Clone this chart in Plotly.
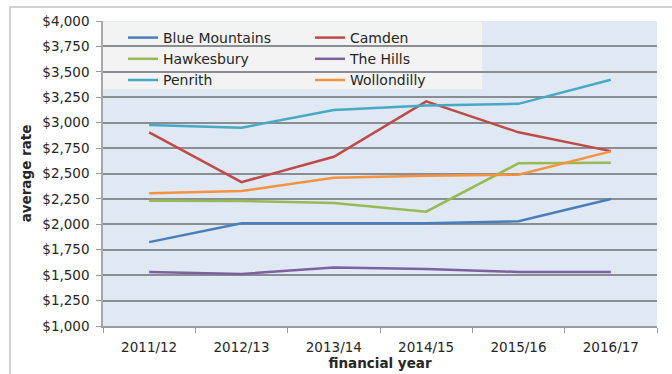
import plotly.graph_objects as go

years = ["2011/12", "2012/13", "2013/14", "2014/15", "2015/16", "2016/17"]
blue_mountains = [1825, 2010, 2010, 2010, 2030, 2250]
camden = [2905, 2415, 2665, 3210, 2905, 2720]
hawkesbury = [2232, 2230, 2210, 2125, 2600, 2605]
the_hills = [1532, 1512, 1575, 1560, 1532, 1532]
penrith = [2978, 2950, 3125, 3170, 3185, 3422]
wollondilly = [2305, 2328, 2458, 2478, 2488, 2718]

series = [
    ("Blue Mountains", blue_mountains, "#4A7EBB"),
    ("Camden", camden, "#BE4B48"),
    ("Hawkesbury", hawkesbury, "#98B954"),
    ("The Hills", the_hills, "#7D60A0"),
    ("Penrith", penrith, "#46AAC5"),
    ("Wollondilly", wollondilly, "#F69240"),
]

FONT = "DejaVu Sans"
TXT = "#262626"

fig = go.Figure()
for name, vals, color in series:
    fig.add_trace(go.Scatter(x=years, y=vals, name=name, mode="lines",
                             line=dict(color=color, width=2.5)))

W, H = 672, 374
L, R, T, B = 103, 15, 21, 48
pw, ph = W - L - R, H - T - B

def px_x(x):
    return (x - L) / pw

def px_y(y):
    return 1 - (y - T) / ph

shapes = [
    # legend box, between gridlines and traces
    dict(type="rect", xref="paper", yref="paper", layer="between",
         x0=px_x(103), x1=px_x(482), y0=px_y(89), y1=px_y(22),
         fillcolor="#f3f3f3", line=dict(width=0)),
    # outer chart frame
    dict(type="rect", xref="paper", yref="paper", layer="above",
         x0=px_x(10), x1=px_x(690), y0=px_y(390), y1=px_y(7),
         fillcolor="rgba(0,0,0,0)", line=dict(color="#c4c4c4", width=1.5)),
]

fig.update_layout(
    width=W, height=H,
    margin=dict(l=L, r=R, t=T, b=B, pad=0),
    paper_bgcolor="white",
    plot_bgcolor="#dfe8f3",
    font=dict(family=FONT, size=13, color=TXT),
    shapes=shapes,
    showlegend=True,
    legend=dict(
        orientation="h", x=px_x(123), y=px_y(22), xanchor="left", yanchor="top",
        bgcolor="rgba(0,0,0,0)", borderwidth=0,
        entrywidth=142, entrywidthmode="pixels",
        font=dict(family=FONT, size=14, color=TXT),
        traceorder="normal",
    ),
    xaxis=dict(
        type="category", range=[-0.5, 5.5],
        tickson="boundaries", ticks="outside", ticklen=5, tickcolor="#9a9a9a",
        showline=True, linecolor="#9a9a9a", linewidth=1.5,
        showgrid=False, ticklabelstandoff=8,
        tickfont=dict(family=FONT, size=13.5, color=TXT),
        title=dict(text="<b>financial year</b>", standoff=4,
                   font=dict(family=FONT, size=13.5, color=TXT)),
        automargin=False,
    ),
    yaxis=dict(
        range=[1000, 4000], dtick=250, tick0=1000,
        tickprefix="$", tickformat=",",
        ticks="outside", ticklen=5, tickcolor="#9a9a9a",
        showline=True, linecolor="#a8a8a8", linewidth=1.5,
        showgrid=True, gridcolor="#8a8d92", gridwidth=1.5,
        zeroline=False, ticklabelstandoff=4,
        tickfont=dict(family=FONT, size=13.5, color=TXT),
        title=dict(text="<b>average rate</b>", standoff=8,
                   font=dict(family=FONT, size=13.5, color=TXT)),
        automargin=False,
    ),
)

fig.write_html("out.html")
